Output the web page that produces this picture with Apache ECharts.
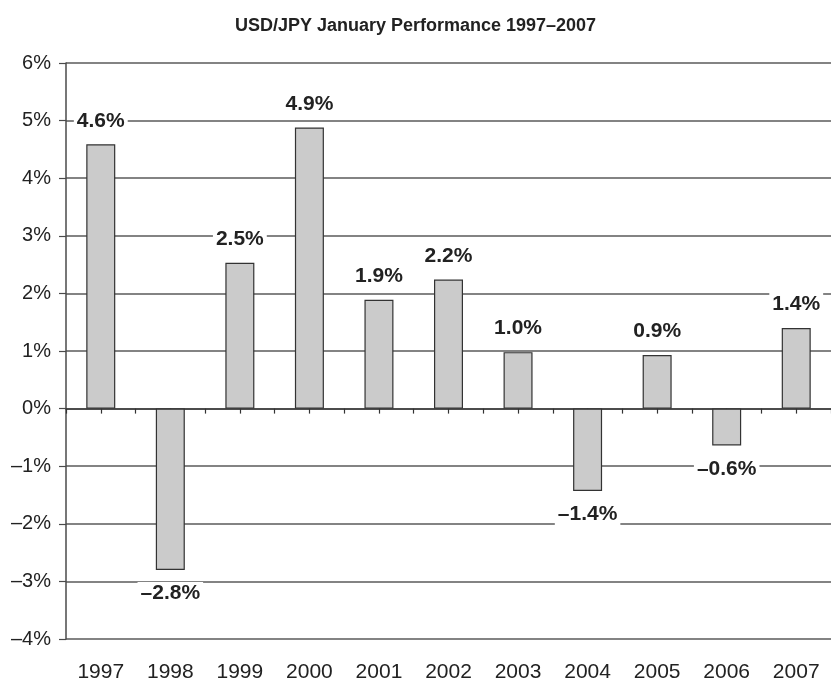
<!DOCTYPE html>
<html>
<head>
<meta charset="utf-8">
<script src="https://cdn.jsdelivr.net/npm/echarts@6/dist/echarts.min.js"></script>
<style>
  html, body { margin: 0; padding: 0; background: #fff; }
  #chart { width: 831px; height: 683px; }
</style>
</head>
<body>
<div id="chart"></div>
<script>
// January USD/JPY returns, in percent
var years = ['1997', '1998', '1999', '2000', '2001', '2002', '2003', '2004', '2005', '2006', '2007'];
var returns = [4.59, -2.8, 2.53, 4.88, 1.89, 2.24, 0.98, -1.43, 0.93, -0.64, 1.4];

var FONT = '"Liberation Sans", Arial, sans-serif';

function minus(s) {
    return String(s).replace('-', '\u2013');
}

var chartDom = document.getElementById('chart');
var chart = echarts.init(chartDom);
var option;

var zeroLine = { show: true, onZero: true, onZeroAxisIndex: 0, lineStyle: { color: '#4a4a4a', width: 1.5 } };
var zeroTick = { color: '#333', width: 1.2 };

option = {
    animation: false,
    backgroundColor: '#fff',
    title: {
        text: 'USD/JPY January Performance 1997\u20132007',
        left: 'center',
        top: 12,
        textStyle: {
            fontFamily: FONT,
            fontSize: 18,
            fontWeight: 'bold',
            color: '#222'
        }
    },
    grid: {
        left: 66,
        right: -5,
        top: 63,
        bottom: 41,
        containLabel: false
    },
    xAxis: [
        {
            // year labels along the bottom
            type: 'category',
            data: years,
            position: 'bottom',
            axisLine: { show: false, onZero: false },
            axisTick: { show: false },
            axisLabel: {
                margin: 23,
                fontFamily: FONT,
                fontSize: 21,
                color: '#222'
            }
        },
        {
            // zero line with ticks between bars
            type: 'category',
            data: years,
            position: 'bottom',
            axisLine: zeroLine,
            axisTick: { show: true, length: 5, lineStyle: zeroTick },
            axisLabel: { show: false }
        },
        {
            // ticks under each bar
            type: 'category',
            data: years,
            position: 'bottom',
            axisLine: zeroLine,
            axisTick: { show: true, alignWithLabel: true, length: 5, lineStyle: zeroTick },
            axisLabel: { show: false }
        }
    ],
    yAxis: {
        type: 'value',
        min: -4,
        max: 6,
        interval: 1,
        axisLine: { show: true, lineStyle: { color: '#4a4a4a', width: 1.5 } },
        axisTick: { show: true, length: 7, lineStyle: { color: '#4a4a4a', width: 1.2 } },
        axisLabel: {
            margin: 15,
            fontFamily: FONT,
            fontSize: 20,
            color: '#222',
            formatter: function (v) {
                return minus(v) + '%';
            }
        },
        splitLine: { show: true, lineStyle: { color: '#5a5a5a', width: 1.5 } }
    },
    series: [
        {
            type: 'bar',
            xAxisIndex: 0,
            data: returns,
            barWidth: 29,
            itemStyle: {
                color: '#cbcbcb',
                borderColor: '#333',
                borderWidth: 1.2
            },
            label: {
                show: true,
                position: 'outside',
                distance: 12,
                fontFamily: FONT,
                fontSize: 21,
                fontWeight: 'bold',
                color: '#222',
                backgroundColor: '#fff',
                padding: [1, 3],
                formatter: function (p) {
                    return minus(p.value.toFixed(1)) + '%';
                }
            }
        }
    ]
};

option && chart.setOption(option);
</script>
</body>
</html>
